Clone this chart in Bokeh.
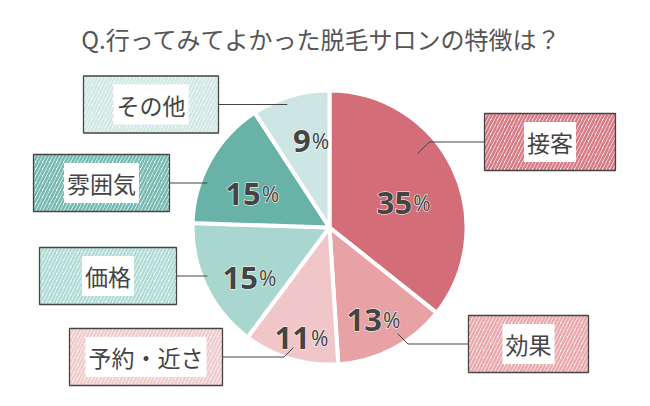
import numpy as np
from bokeh.plotting import figure
from bokeh.models import Range1d
from bokeh.core.properties import value
from bokeh.embed import file_html
from bokeh.resources import INLINE

# ---- data ----
title_text = "Q.行ってみてよかった脱毛サロンの特徴は？"
categories = ["接客", "効果", "予約・近さ", "価格", "雰囲気", "その他"]
percents = [35, 13, 11, 15, 15, 9]
colors = ["#d36e78", "#e8a1a4", "#f0c6c8", "#a9d7d0", "#68b2a8", "#cde6e3"]

# ---- layout constants ----
W, H = 650, 406
CX, CY, R = 329, H - 227, 137
label_r = [0.59, 0.67, 0.76, 0.66, 0.66, 0.74]       # radial position of % labels
box_cx = [549.5, 528, 145.5, 107.5, 101, 150.5]
box_cy = [141.5, 343.5, 356.5, 275.5, 182.5, 104]     # pixel rows from top
box_w = [131, 120, 153, 137, 136, 135]
box_h = 57
lead_ang = [50, 147.3, 196.7, 248.1, 290.2, 341.1]    # degrees clockwise from top
lead_r = [0.84, 0.92, 0.915, 0.96, 0.95, 0.95]

FONT = value("Noto Sans CJK JP")
TXT = "#444444"

p = figure(width=W, height=H, x_range=Range1d(0, W), y_range=Range1d(0, H),
           output_backend="svg", toolbar_location=None, min_border=0,
           x_axis_location=None, y_axis_location=None)
p.grid.visible = False
p.outline_line_color = None
p.background_fill_color = "white"
p.border_fill_color = "white"

# ---- pie ----
frac = np.array(percents, dtype=float) / sum(percents)
cum = np.concatenate([[0.0], np.cumsum(frac)])
start = np.pi / 2 - 2 * np.pi * cum[:-1]
end = np.pi / 2 - 2 * np.pi * cum[1:]
p.wedge(x=CX, y=CY, radius=R, start_angle=start, end_angle=end,
        direction="clock", fill_color=colors, line_color="white", line_width=4)

# ---- leader lines ----
xs, ys = [], []
for i in range(len(categories)):
    a = np.radians(lead_ang[i])
    ix = CX + lead_r[i] * R * np.sin(a)
    iy = CY + lead_r[i] * R * np.cos(a)
    by = H - box_cy[i]
    side = 1 if box_cx[i] > CX else -1
    ex = ix + side * abs(iy - by)
    edge = box_cx[i] - side * box_w[i] / 2
    xs.append([ix, ex, edge])
    ys.append([iy, by, by])
p.multi_line(xs=xs, ys=ys, line_color=TXT, line_width=1)

# ---- category boxes ----
p.rect(x=box_cx, y=[H - v for v in box_cy], width=box_w, height=box_h,
       fill_color="white", hatch_pattern="/", hatch_color=colors, hatch_alpha=0.9,
       hatch_scale=7, hatch_weight=2.6, line_color=TXT, line_width=1.3)
p.text(x=box_cx, y=[H - v for v in box_cy], text=categories,
       text_align="center", text_baseline="middle", text_font=FONT,
       text_font_size="23px", text_color=TXT,
       background_fill_color="white", padding=3)

# ---- percentage labels (white halo underneath, dark text on top) ----
mid = (cum[:-1] + cum[1:]) / 2
theta = np.pi / 2 - 2 * np.pi * mid
lx = CX + np.array(label_r) * R * np.cos(theta) + 10
ly = CY + np.array(label_r) * R * np.sin(theta) - 11
num_txt = [str(v) for v in percents]
pct_txt = ["%"] * len(percents)
for halo in (True, False):
    extra = dict(text_outline_color="white") if halo else {}
    p.text(x=lx, y=ly, text=num_txt, text_align="right",
           text_baseline="alphabetic", text_font=value("Noto Sans"),
           text_font_style="bold", text_font_size="31px",
           text_color="white" if halo else TXT, **extra)
    p.text(x=lx + 1, y=ly, text=pct_txt, text_align="left",
           text_baseline="alphabetic", text_font=value("Noto Sans"),
           text_font_size="21px", text_color="white" if halo else TXT, **extra)

# ---- title ----
p.text(x=[321], y=[H - 38], text=[title_text], text_align="center",
       text_baseline="middle", text_font=FONT, text_font_size="24px",
       text_color="#555555")

open("out.html", "w").write(file_html(p, INLINE))
